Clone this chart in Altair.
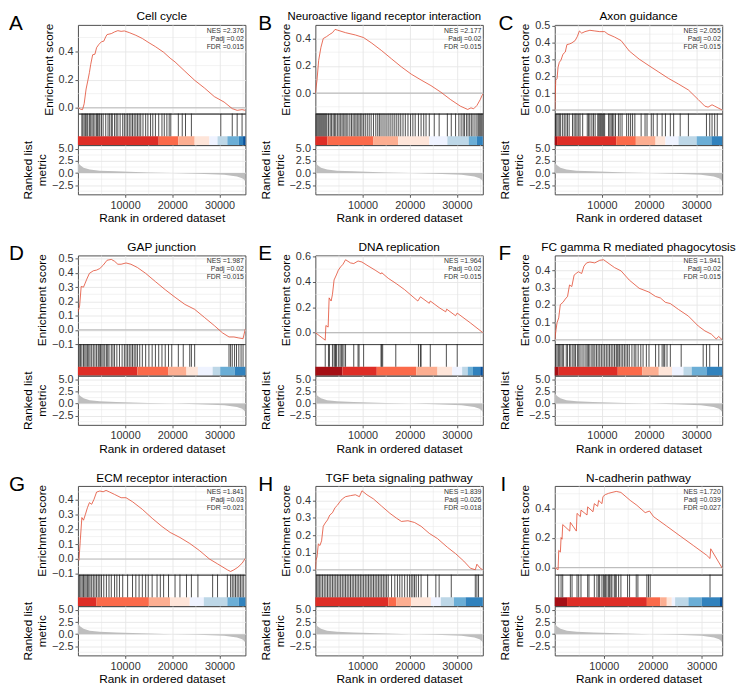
import pandas as pd
import altair as alt

LETTERS = ["A", "B", "C", "D", "E", "F", "G", "H", "I"]
TITLES = ["Cell cycle", "Neuroactive ligand receptor interaction", "Axon guidance",
          "GAP junction", "DNA replication", "FC gamma R mediated phagocytosis",
          "ECM receptor interaction", "TGF beta signaling pathway", "N-cadherin pathway"]
NES = ["2.376", "2.177", "2.055", "1.987", "1.964", "1.941", "1.841", "1.839", "1.720"]
PADJ = ["0.02", "0.02", "0.02", "0.02", "0.02", "0.02", "0.03", "0.026", "0.039"]
FDR = ["0.015", "0.015", "0.015", "0.015", "0.015", "0.015", "0.021", "0.018", "0.027"]
XMAX = [35500, 35500, 35500, 35500, 35500, 35500, 35500, 35500, 34200]

# ---- running enrichment score (rank, ES) ----
ES_RANK_A = [140, 485, 970, 1320, 1730, 2080, 2430, 2700, 3120, 3600, 3950, 4440, 4990, 5480, 5890, 6170, 7070, 7760, 8460, 9150, 9840, 10880, 12270, 13650, 15040, 16420, 18160, 19540, 20580, 22660, 24740, 26820, 28900, 30980, 32710, 33750, 34790, 35500]
ES_VAL_A = [0.0, -0.01, -0.014, 0.028, 0.133, 0.19, 0.25, 0.307, 0.377, 0.381, 0.428, 0.451, 0.47, 0.474, 0.505, 0.521, 0.528, 0.54, 0.549, 0.544, 0.547, 0.535, 0.516, 0.493, 0.463, 0.435, 0.395, 0.353, 0.326, 0.26, 0.195, 0.14, 0.079, 0.04, -0.007, -0.019, -0.014, -0.019]
ES_RANK_B = [0, 350, 700, 1180, 1670, 2370, 3060, 3620, 4180, 4660, 6400, 8490, 10230, 11970, 14060, 16150, 18240, 20320, 22410, 24500, 26590, 28680, 30760, 32290, 32990, 33550, 34240, 34940, 35500]
ES_VAL_B = [0.0, 0.096, 0.24, 0.335, 0.4, 0.414, 0.431, 0.443, 0.467, 0.462, 0.443, 0.426, 0.407, 0.366, 0.311, 0.251, 0.192, 0.139, 0.096, 0.055, 0.007, -0.048, -0.096, -0.12, -0.108, -0.115, -0.091, -0.048, -0.005]
ES_RANK_C = [0, 210, 490, 700, 970, 1320, 1740, 2230, 2580, 3130, 3620, 4320, 4800, 5220, 5710, 6400, 7450, 8490, 9540, 10580, 11280, 12670, 14060, 15800, 17890, 19980, 22060, 24150, 26240, 28330, 30420, 31810, 32500, 33340, 33900, 34590, 35500]
ES_VAL_C = [0.0, 0.177, 0.187, 0.254, 0.283, 0.296, 0.331, 0.344, 0.388, 0.392, 0.398, 0.412, 0.437, 0.469, 0.456, 0.465, 0.473, 0.469, 0.465, 0.465, 0.45, 0.433, 0.412, 0.35, 0.302, 0.263, 0.225, 0.187, 0.154, 0.119, 0.062, 0.023, 0.017, 0.031, 0.023, 0.013, 0.0]
ES_RANK_D = [0, 350, 690, 1180, 1530, 1870, 2430, 3260, 3950, 4640, 5340, 6170, 7070, 7760, 8460, 9150, 10190, 11230, 12610, 14350, 16420, 18500, 20580, 22660, 24740, 26820, 28900, 30630, 32020, 33060, 34100, 35000, 35480]
ES_VAL_D = [0.122, 0.167, 0.305, 0.3, 0.328, 0.356, 0.397, 0.415, 0.42, 0.431, 0.454, 0.489, 0.495, 0.482, 0.461, 0.461, 0.47, 0.461, 0.438, 0.397, 0.339, 0.282, 0.229, 0.179, 0.144, 0.087, 0.03, -0.021, -0.05, -0.05, -0.057, -0.062, 0.007]
ES_RANK_E = [0, 2090, 2230, 2710, 2920, 3340, 3620, 3970, 4450, 4870, 5360, 5850, 6400, 7450, 8140, 9050, 9880, 10930, 12670, 13920, 14060, 15450, 17190, 18930, 21720, 22270, 24150, 24360, 26240, 27630, 27840, 29720, 30070, 32850, 35500]
ES_VAL_E = [0.0, -0.059, 0.056, 0.044, 0.274, 0.249, 0.3, 0.415, 0.454, 0.492, 0.518, 0.538, 0.574, 0.549, 0.544, 0.564, 0.556, 0.531, 0.492, 0.462, 0.472, 0.428, 0.385, 0.338, 0.249, 0.282, 0.231, 0.249, 0.197, 0.164, 0.185, 0.133, 0.154, 0.077, 0.0]
ES_RANK_F = [0, 280, 490, 840, 1180, 1740, 2230, 2710, 3130, 3620, 4110, 4520, 5010, 5710, 6190, 6750, 7450, 8490, 9540, 10370, 11280, 12670, 14060, 15800, 17890, 19980, 21370, 22410, 23460, 24500, 26240, 28330, 30420, 31810, 33200, 34240, 34730, 35500]
ES_VAL_F = [0.0, 0.06, 0.098, 0.126, 0.202, 0.215, 0.234, 0.249, 0.315, 0.306, 0.372, 0.381, 0.391, 0.381, 0.423, 0.442, 0.447, 0.442, 0.457, 0.46, 0.442, 0.415, 0.396, 0.343, 0.296, 0.274, 0.249, 0.24, 0.215, 0.208, 0.174, 0.136, 0.079, 0.051, 0.032, 0.004, 0.019, 0.0]
ES_RANK_G = [210, 490, 830, 1180, 1590, 2010, 2430, 2910, 3400, 3950, 4640, 5340, 5960, 6720, 7760, 9150, 10190, 11570, 13650, 15730, 17810, 19540, 21620, 23700, 25780, 27860, 29590, 31670, 32360, 33060, 33890, 34790, 35480]
ES_VAL_G = [-0.011, 0.122, 0.278, 0.26, 0.3, 0.344, 0.378, 0.367, 0.4, 0.449, 0.456, 0.451, 0.46, 0.449, 0.433, 0.411, 0.411, 0.384, 0.333, 0.273, 0.218, 0.178, 0.144, 0.104, 0.056, 0.0, -0.033, -0.073, -0.084, -0.073, -0.056, -0.029, 0.004]
ES_RANK_H = [0, 140, 350, 630, 970, 1320, 1670, 2090, 2580, 3060, 3620, 4180, 4660, 5150, 5710, 6400, 7450, 8490, 9330, 9880, 10930, 12320, 14060, 15800, 17190, 18240, 19630, 21020, 22410, 24150, 25890, 27980, 29720, 31460, 32850, 33900, 34240, 34940, 35500]
ES_VAL_H = [0.0, 0.056, 0.074, 0.149, 0.14, 0.167, 0.251, 0.27, 0.288, 0.316, 0.329, 0.359, 0.372, 0.391, 0.409, 0.422, 0.428, 0.433, 0.422, 0.456, 0.433, 0.409, 0.367, 0.326, 0.298, 0.279, 0.283, 0.273, 0.251, 0.21, 0.18, 0.13, 0.093, 0.05, 0.009, 0.0, 0.032, 0.009, 0.0]
ES_RANK_I = [0, 680, 815, 1150, 1290, 1490, 1630, 3060, 3190, 4410, 4550, 5230, 5360, 6590, 6720, 7810, 8080, 8760, 8960, 9640, 9850, 10320, 11000, 11680, 12560, 13510, 15410, 16770, 18470, 19350, 20170, 22880, 25600, 28310, 31030, 31710, 31850, 34200]
ES_VAL_I = [0.0, -0.015, 0.116, 0.105, 0.203, 0.192, 0.291, 0.247, 0.306, 0.247, 0.367, 0.345, 0.389, 0.356, 0.411, 0.378, 0.433, 0.415, 0.455, 0.433, 0.481, 0.494, 0.503, 0.509, 0.516, 0.509, 0.455, 0.422, 0.372, 0.383, 0.345, 0.28, 0.214, 0.149, 0.083, 0.061, 0.127, -0.004]
ES_RANK = [ES_RANK_A, ES_RANK_B, ES_RANK_C, ES_RANK_D, ES_RANK_E, ES_RANK_F, ES_RANK_G, ES_RANK_H, ES_RANK_I]
ES_VAL = [ES_VAL_A, ES_VAL_B, ES_VAL_C, ES_VAL_D, ES_VAL_E, ES_VAL_F, ES_VAL_G, ES_VAL_H, ES_VAL_I]

# ---- ES axis domains, labelled ticks and minor grid values ----
ES_DOM = [[-0.042, 0.59], [-0.15, 0.50], [-0.021, 0.505], [-0.1, 0.523], [-0.09, 0.608],
          [-0.025, 0.485], [-0.105, 0.49], [-0.028, 0.484], [-0.048, 0.553]]
ES_MAJOR = [[0.0, 0.2, 0.4], [0.0, 0.2, 0.4], [0.0, 0.1, 0.2, 0.3, 0.4, 0.5],
            [-0.1, 0.0, 0.1, 0.2, 0.3, 0.4, 0.5], [0.0, 0.2, 0.4, 0.6], [0.0, 0.1, 0.2, 0.3, 0.4],
            [-0.1, 0.0, 0.1, 0.2, 0.3, 0.4], [0.0, 0.1, 0.2, 0.3, 0.4], [0.0, 0.2, 0.4]]
ES_MINOR = [[0.1, 0.3, 0.5], [-0.1, 0.1, 0.3], [0.05, 0.15, 0.25, 0.35, 0.45],
            [-0.05, 0.05, 0.15, 0.25, 0.35, 0.45], [0.1, 0.3, 0.5], [0.05, 0.15, 0.25, 0.35, 0.45],
            [-0.05, 0.05, 0.15, 0.25, 0.35, 0.45], [0.05, 0.15, 0.25, 0.35, 0.45], [0.1, 0.3, 0.5]]

# ---- gene set hit positions (rank) ----
HITS_A = [830, 1040, 1320, 1590, 1870, 2080, 2430, 2700, 2980, 3260, 3600, 3950, 4160, 4440, 4640, 4990, 5340, 5890, 6380, 6720, 7070, 7280, 7760, 8110, 8460, 8940, 9490, 9840, 10190, 10530, 10880, 11230, 11570, 11920, 12270, 12610, 12960, 13310, 13790, 14350, 14830, 15390, 15870, 16420, 17120, 17810, 18300, 18850, 19340, 19680, 21280, 22110, 22800, 24050, 30280, 32710, 33750, 34790]
HITS_B = [140, 350, 560, 770, 970, 1180, 1390, 1600, 1810, 2020, 2230, 2440, 2780, 3130, 3410, 3760, 4040, 4320, 4660, 5010, 5290, 5640, 5920, 6260, 6540, 6890, 7310, 7660, 8000, 8350, 8630, 8980, 9260, 9610, 9880, 10230, 10580, 11000, 11410, 11830, 12320, 12810, 13220, 13570, 13920, 14340, 14760, 15170, 15590, 16010, 16430, 16840, 17260, 17680, 18100, 18580, 19070, 19630, 20180, 20670, 21160, 21850, 22410, 22970, 23460, 24150, 25200, 26240, 27980, 28810, 29720, 30420, 30900, 31320, 31600, 32020, 32360, 32710, 33060, 33410, 33830, 34240, 34520, 34730, 34940, 35150, 35360]
HITS_C = [140, 420, 700, 970, 1250, 1670, 2020, 2370, 2710, 3060, 3760, 4110, 4450, 4730, 5080, 5360, 5920, 6890, 7170, 7450, 7870, 8210, 8560, 9120, 9330, 9540, 9740, 9950, 10160, 10370, 10580, 11410, 11690, 11970, 12250, 12530, 12880, 13500, 13850, 14270, 15240, 15660, 16080, 16500, 16980, 18310, 19140, 19560, 20460, 20880, 21720, 22760, 23460, 24500, 25200, 26590, 28330, 32160, 32850, 33340, 33900, 34450]
HITS_D = [280, 550, 830, 1180, 1460, 1730, 2010, 2290, 2560, 2910, 3260, 3600, 3950, 4300, 4510, 4780, 5060, 5340, 5680, 6030, 6310, 6580, 7070, 7420, 7760, 8250, 8800, 9360, 9840, 10190, 10530, 10880, 11230, 11570, 11920, 12270, 12610, 13100, 13650, 14350, 15040, 15730, 16420, 17120, 17810, 18500, 19200, 19890, 21280, 22320, 23700, 24050, 24740, 32020, 32360, 32710, 33200, 33610, 34100, 34580, 35000]
HITS_E = [2090, 2780, 2990, 3620, 3970, 4180, 4320, 4450, 4870, 5220, 5500, 5710, 6060, 6400, 8140, 9050, 9260, 10230, 13920, 14060, 14270, 17050, 21850, 22270, 22410, 24360, 27770, 30070]
HITS_F = [210, 490, 770, 1040, 1320, 1600, 1880, 2440, 2710, 3130, 3410, 3830, 4110, 4390, 4800, 5080, 5360, 5780, 6190, 6610, 6890, 7170, 7450, 7870, 8140, 8490, 8840, 9190, 9540, 9880, 10230, 10580, 10930, 11280, 11620, 11970, 12320, 12670, 13020, 13220, 13430, 13710, 14060, 14410, 14760, 15100, 15450, 15800, 16360, 16840, 17190, 17680, 18240, 18720, 19420, 19980, 21370, 22060, 22760, 23110, 23320, 23800, 24500, 26800, 31460, 32160, 32850, 34730]
HITS_G = [350, 620, 900, 1180, 1460, 1730, 2010, 2290, 2560, 2910, 3260, 3600, 3950, 4300, 4640, 4990, 5480, 6030, 6580, 7070, 7760, 8250, 8800, 9490, 10530, 11570, 12270, 12960, 13650, 14350, 14900, 15730, 16770, 17460, 18160, 19200, 20580, 21620, 23010, 24050, 25430, 28550, 29590, 31670, 32360, 32710, 33060, 33400, 33750, 34100, 34440, 34790, 35140]
HITS_H = [280, 560, 840, 1180, 1530, 1880, 2230, 2580, 2920, 3270, 3620, 3970, 4320, 4660, 5010, 5360, 5710, 6060, 6400, 6750, 7100, 7450, 7800, 8140, 8490, 8840, 9190, 9540, 9880, 10230, 10580, 10930, 11280, 11620, 11970, 12320, 12670, 13020, 13360, 13710, 14060, 14410, 14760, 15100, 15450, 16150, 16840, 17400, 17890, 18370, 18930, 19490, 19980, 20320, 20670, 21020, 21370, 21850, 22410, 23800, 25540, 26240, 28810, 33900, 34240, 34590]
HITS_I = [815, 1290, 1630, 3190, 3530, 4550, 4890, 5360, 6720, 6990, 8080, 8620, 8960, 9170, 9640, 9980, 10190, 10390, 10660, 11000, 11200, 11480, 11680, 12150, 12360, 12560, 13040, 13510, 14870, 15280, 16640, 16980, 18810, 19150, 19490, 31710]
HITS = [HITS_A, HITS_B, HITS_C, HITS_D, HITS_E, HITS_F, HITS_G, HITS_H, HITS_I]

# ---- colour bar: segment boundaries (rank) and colours ----
CB_BREAKS = [
    [0, 17120, 21280, 24740, 27860, 29590, 31670, 34100, 35000, 35500],
    [0, 2580, 12320, 17540, 24150, 27980, 32500, 34240, 35500],
    [0, 490, 13020, 17190, 21370, 23460, 26240, 30070, 33200, 35500],
    [0, 12610, 19200, 23010, 25430, 28550, 30150, 33200, 35500],
    [0, 5710, 13020, 21370, 25890, 29020, 31110, 32290, 33410, 34940, 35500],
    [0, 840, 13360, 18580, 22060, 24850, 27280, 29020, 32160, 35500],
    [0, 3950, 15040, 19540, 23700, 26680, 31670, 34100, 35500],
    [0, 15450, 17190, 20320, 24500, 26590, 29370, 31810, 35500],
    [0, 2510, 18810, 21520, 22880, 23900, 24580, 27300, 29980, 33750, 34200],
]
CB_COLORS = [
    ["#DE2D26", "#FB6A4A", "#FCAE91", "#FEE5D9", "#EFF3FF", "#BDD7E7", "#6BAED6", "#3182BD", "#08519C"],
    ["#DE2D26", "#FB6A4A", "#FCAE91", "#FEE5D9", "#EFF3FF", "#BDD7E7", "#6BAED6", "#3182BD"],
    ["#A50F15", "#DE2D26", "#FB6A4A", "#FCAE91", "#FEE5D9", "#EFF3FF", "#BDD7E7", "#6BAED6", "#3182BD"],
    ["#DE2D26", "#FB6A4A", "#FCAE91", "#FEE5D9", "#EFF3FF", "#BDD7E7", "#6BAED6", "#3182BD"],
    ["#A50F15", "#DE2D26", "#FB6A4A", "#FCAE91", "#FEE5D9", "#EFF3FF", "#BDD7E7", "#6BAED6", "#3182BD", "#08519C"],
    ["#A50F15", "#DE2D26", "#FB6A4A", "#FCAE91", "#FEE5D9", "#EFF3FF", "#BDD7E7", "#6BAED6", "#3182BD"],
    ["#DE2D26", "#FB6A4A", "#FCAE91", "#FEE5D9", "#EFF3FF", "#BDD7E7", "#6BAED6", "#3182BD"],
    ["#DE2D26", "#FB6A4A", "#FCAE91", "#FEE5D9", "#EFF3FF", "#BDD7E7", "#6BAED6", "#3182BD"],
    ["#A50F15", "#DE2D26", "#FB6A4A", "#FCAE91", "#FEE5D9", "#EFF3FF", "#BDD7E7", "#6BAED6", "#3182BD", "#08519C"],
]

# ---- ranked list metric ----
METRIC_RANK = [0, 150, 500, 1200, 2500, 4600, 8100, 15000, 19900, 25400, 31000, 33700, 34800, 35200, 35500]
METRIC_RANK_I = [0, 150, 500, 1200, 2500, 4500, 7900, 14600, 19400, 24700, 30000, 32500, 33550, 33950, 34200]
METRIC_VAL = [2.4, 2.0, 1.6, 1.1, 0.72, 0.5, 0.36, 0.14, 0.0, -0.14, -0.36, -0.7, -1.05, -1.35, -1.8]
METRIC_DOM = [-4.4, 5.8]
METRIC_MAJOR = [-2.5, 0.0, 2.5, 5.0]
METRIC_MINOR = [-3.75, -1.25, 1.25, 3.75]
X_MAJOR = [10000, 20000, 30000]
X_MINOR = [5000, 15000, 25000, 35000]

LETTER_DX = [-70, -58, -57, -70, -58, -57, -70, -58, -55]
TITLE_DX = [0, -15, 0, 0, 0, 0, 0, 0, 0]
TITLE_SIZE = [12, 11.5, 12, 12, 12, 12, 12, 12, 12]
GAP_12 = 10
GAP_23 = 13
ROW_GAP = 16

W, H_ES, H_HIT, H_RANK = 170, 90, 32, 50
RED = "#E2492F"
GRID = "#E6E6E6"
FONT = "Liberation Sans"


def panel(i):
    xmax = XMAX[i]
    xs = alt.Scale(domain=[0, xmax], nice=False, zero=False)
    xminor = [v for v in X_MINOR if v < xmax]

    # --- enrichment score ---
    ys = alt.Scale(domain=ES_DOM[i], nice=False, zero=False)
    ax_es_x = alt.Axis(values=X_MAJOR, labels=False, ticks=False, title=None, labelOverlap=False)
    ax_es_y = alt.Axis(values=ES_MAJOR[i], format=".1f", labelOverlap=False, title="Enrichment score")
    es_df = pd.DataFrame({"rank": ES_RANK[i], "es": ES_VAL[i]})
    gx = alt.Chart(pd.DataFrame({"rank": xminor})).mark_rule(color=GRID, strokeWidth=0.5).encode(
        x=alt.X("rank:Q", scale=xs, axis=ax_es_x))
    gy = alt.Chart(pd.DataFrame({"es": ES_MINOR[i]})).mark_rule(color=GRID, strokeWidth=0.5).encode(
        y=alt.Y("es:Q", scale=ys, axis=ax_es_y))
    zero = alt.Chart(pd.DataFrame({"es": [0.0]})).mark_rule(color="#BDBDBD", strokeWidth=1.1).encode(
        y=alt.Y("es:Q", scale=ys, axis=ax_es_y))
    line = alt.Chart(es_df).mark_line(color=RED, strokeWidth=0.8, clip=True).encode(
        x=alt.X("rank:Q", scale=xs, axis=ax_es_x),
        y=alt.Y("es:Q", scale=ys, axis=ax_es_y),
    )
    note = alt.Chart(pd.DataFrame({"t": ["NES =%s\nPadj =%s\nFDR =%s" % (NES[i], PADJ[i], FDR[i])]})).mark_text(
        align="right", baseline="top", fontSize=7, lineHeight=8, lineBreak="\n", color="#333333"
    ).encode(x=alt.value(W - 1.5), y=alt.value(2), text="t:N")
    letter = alt.Chart(pd.DataFrame({"t": [LETTERS[i]]})).mark_text(
        align="left", baseline="alphabetic", fontSize=21, color="black"
    ).encode(x=alt.value(LETTER_DX[i]), y=alt.value(5), text="t:N")
    title = alt.Chart(pd.DataFrame({"t": [TITLES[i]]})).mark_text(
        align="center", baseline="alphabetic", fontSize=TITLE_SIZE[i], color="black"
    ).encode(x=alt.value(W / 2 + TITLE_DX[i]), y=alt.value(-4.5), text="t:N")
    es = alt.layer(gx, gy, zero, line, note, letter, title).properties(width=W, height=H_ES)

    # --- hits + colour bar ---
    ys01 = alt.Scale(domain=[0, 1], nice=False, zero=False)
    hits = alt.Chart(pd.DataFrame({"rank": HITS[i]})).mark_rule(color="#111111", strokeWidth=0.75).encode(
        x=alt.X("rank:Q", scale=xs, axis=None),
        y=alt.YDatum(0.28, scale=ys01, axis=None),
        y2=alt.Y2Datum(1),
    )
    br = CB_BREAKS[i]
    cb_df = pd.DataFrame({"start": br[:-1], "end": br[1:], "col": CB_COLORS[i]})
    bar = alt.Chart(cb_df).mark_rect().encode(
        x=alt.X("start:Q", scale=xs, axis=None),
        x2="end:Q",
        y=alt.YDatum(0, scale=ys01, axis=None),
        y2=alt.Y2Datum(0.28),
        color=alt.Color("col:N", scale=None),
    )
    hitpanel = alt.layer(bar, hits).properties(width=W, height=H_HIT)

    # --- ranked list metric ---
    ysm = alt.Scale(domain=METRIC_DOM, nice=False, zero=False)
    ax_rk_x = alt.Axis(values=X_MAJOR, format="d", labelOverlap=False, labelFlush=False,
                       title="Rank in ordered dataset")
    ax_rk_y = alt.Axis(values=METRIC_MAJOR, format=".1f", labelOverlap=False,
                       title=["Ranked list", "metric"])
    mr = METRIC_RANK_I if xmax < 35000 else METRIC_RANK
    m_df = pd.DataFrame({"rank": mr, "m": METRIC_VAL})
    gx2 = alt.Chart(pd.DataFrame({"rank": xminor})).mark_rule(color=GRID, strokeWidth=0.5).encode(
        x=alt.X("rank:Q", scale=xs, axis=ax_rk_x))
    gy2 = alt.Chart(pd.DataFrame({"m": METRIC_MINOR})).mark_rule(color=GRID, strokeWidth=0.5).encode(
        y=alt.Y("m:Q", scale=ysm, axis=ax_rk_y))
    area = alt.Chart(m_df).mark_area(color="#BEBEBE", clip=True).encode(
        x=alt.X("rank:Q", scale=xs, axis=ax_rk_x),
        y=alt.Y("m:Q", scale=ysm, axis=ax_rk_y),
        y2=alt.Y2Datum(0),
    )
    ranked = alt.layer(gx2, gy2, area).properties(width=W, height=H_RANK)

    return alt.vconcat(es, hitpanel, ranked, spacing=0, bounds="flush").resolve_scale(
        x="independent", y="independent")


rows = []
for r in range(3):
    left_pair = alt.hconcat(panel(3 * r), panel(3 * r + 1), spacing=GAP_12).resolve_scale(
        x="independent", y="independent")
    rows.append(alt.hconcat(left_pair, panel(3 * r + 2), spacing=GAP_23).resolve_scale(
        x="independent", y="independent"))

chart = alt.vconcat(*rows, spacing=ROW_GAP).resolve_scale(x="independent", y="independent").properties(
    padding={"left": 0, "top": -3, "right": 0, "bottom": 0}
).configure(font=FONT).configure_view(
    stroke="#4D4D4D", strokeWidth=1
).configure_axis(
    domain=False, gridColor=GRID, gridWidth=0.9, labelColor="#333333", tickColor="#333333",
    tickSize=3, tickWidth=0.8, labelFontSize=11, labelPadding=2, titleFontSize=12,
    titleFontWeight="normal", titleColor="black", titlePadding=3, labelOverlap=False
)

chart.save("out.html", embed_options={"renderer": "svg", "actions": False})
